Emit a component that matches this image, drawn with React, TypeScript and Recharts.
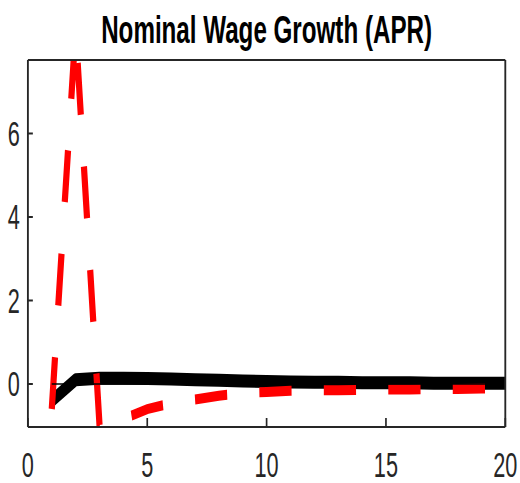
import { LineChart, Line, XAxis, YAxis, ReferenceLine } from 'recharts';

// horizon (quarters)
const horizon = [1, 2, 3, 4, 5, 6, 7, 8, 9, 10, 11, 12, 13, 14, 15, 16, 17, 18, 19, 20];
// solid black response
const baseline = [-0.4, 0.1, 0.14, 0.14, 0.13, 0.12, 0.1, 0.09, 0.07, 0.06, 0.05, 0.04, 0.04, 0.03, 0.03, 0.03, 0.02, 0.02, 0.02, 0.02];
// dashed red response
const alternative = [-0.6, 8.5, -0.98, -0.84, -0.6, -0.46, -0.37, -0.28, -0.22, -0.19, -0.16, -0.15, -0.15, -0.14, -0.13, -0.13, -0.12, -0.12, -0.11, -0.11];

const xTicks = [0, 5, 10, 15, 20];
const yTicks = [0, 2, 4, 6];

const rows = horizon.map((h, i) => ({ h, baseline: baseline[i], alternative: alternative[i] }));

const SQUEEZE = 0.62; // the figure is squashed horizontally
const W = 839;
const H = 483;
const font = '"Liberation Sans", Arial, sans-serif';
const ink = '#262626';

export default function App() {
  const tickStyle = { fontSize: 35, fill: ink, fontFamily: font };
  return (
    <div style={{ position: 'fixed', left: 0, top: 0, width: 520, height: H, overflow: 'hidden', background: '#fff' }}>
      <div style={{ position: 'relative', width: W, height: H, transform: `scaleX(${SQUEEZE})`, transformOrigin: '0 0' }}>
        <div
          style={{
            position: 'absolute',
            left: 45,
            width: 770,
            top: 10,
            textAlign: 'center',
            fontFamily: font,
            fontWeight: 'bold',
            fontSize: 39,
            lineHeight: '39px',
            color: '#000',
          }}
        >
          Nominal Wage Growth (APR)
        </div>
        <LineChart width={W} height={H} data={rows} margin={{ top: 0, right: 0, bottom: 0, left: 0 }}>
          <XAxis
            xAxisId="bottom"
            dataKey="h"
            type="number"
            domain={[0, 20]}
            ticks={xTicks}
            allowDataOverflow
            height={56}
            tickSize={-9}
            tickMargin={34}
            tick={tickStyle}
            axisLine={{ stroke: ink, strokeWidth: 2 }}
            tickLine={{ stroke: ink, strokeWidth: 2.7 }}
          />
          <XAxis
            xAxisId="top"
            orientation="top"
            dataKey="h"
            type="number"
            domain={[0, 20]}
            ticks={xTicks}
            allowDataOverflow
            height={60}
            tickSize={-9}
            tick={false}
            axisLine={{ stroke: ink, strokeWidth: 2 }}
            tickLine={{ stroke: ink, strokeWidth: 2.7 }}
          />
          <YAxis
            yAxisId="left"
            type="number"
            domain={[-1.03, 7.76]}
            ticks={yTicks}
            allowDataOverflow
            width={45}
            tickSize={-8}
            tickMargin={21}
            tick={tickStyle}
            axisLine={{ stroke: ink, strokeWidth: 3 }}
            tickLine={{ stroke: ink, strokeWidth: 2 }}
          />
          <YAxis
            yAxisId="right"
            orientation="right"
            type="number"
            domain={[-1.03, 7.76]}
            ticks={yTicks}
            allowDataOverflow
            width={24}
            tickSize={-8}
            tick={false}
            axisLine={{ stroke: ink, strokeWidth: 3 }}
            tickLine={{ stroke: ink, strokeWidth: 2 }}
          />
          <Line
            xAxisId="bottom"
            yAxisId="left"
            dataKey="baseline"
            stroke="#000"
            strokeWidth={13}
            dot={false}
            type="linear"
            strokeLinejoin="round"
            isAnimationActive={false}
          />
          <Line
            xAxisId="bottom"
            yAxisId="left"
            dataKey="alternative"
            stroke="#ff0000"
            strokeWidth={10}
            strokeDasharray="52 52"
            strokeLinecap="butt"
            dot={false}
            type="linear"
            isAnimationActive={false}
          />
          <ReferenceLine
            xAxisId="bottom"
            yAxisId="left"
            segment={[{ x: 1, y: 0 }, { x: 20, y: 0 }]}
            stroke="#000"
            strokeWidth={1.5}
          />
        </LineChart>
      </div>
    </div>
  );
}
